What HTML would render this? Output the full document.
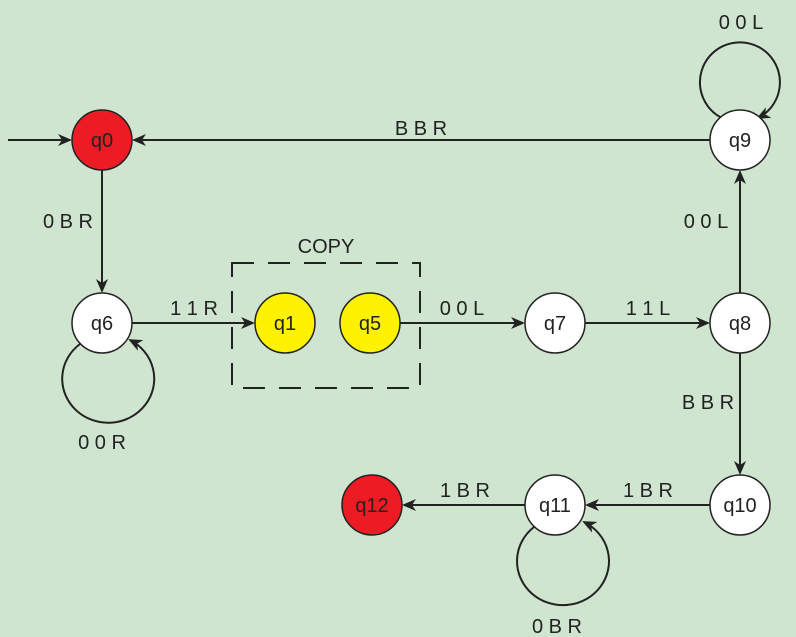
<!DOCTYPE html>
<html><head><meta charset="utf-8"><style>
html,body{margin:0;padding:0;background:#cfe5cf;}
svg{display:block;font-family:"Liberation Sans","DejaVu Sans",sans-serif;}
text{font-size:20px;fill:#222;}
</style></head><body>
<svg width="796" height="637" viewBox="0 0 796 637">
<defs><marker id="ah" markerWidth="14" markerHeight="12" refX="12" refY="6" orient="auto" markerUnits="userSpaceOnUse"><path d="M0,0 L14,6 L0,12 L4,6 Z" fill="#222"/></marker></defs>
<rect width="796" height="637" fill="#cfe5cf"/>
<g stroke="#222" stroke-width="2" fill="none">
<line x1="8" y1="140" x2="70" y2="140" marker-end="url(#ah)"/>
<line x1="710" y1="140" x2="134" y2="140" marker-end="url(#ah)"/>
<line x1="102" y1="170" x2="102" y2="291" marker-end="url(#ah)"/>
<path d="M80,344 A46,44 0 1 0 130,340" marker-end="url(#ah)"/>
<line x1="132" y1="323" x2="253" y2="323" marker-end="url(#ah)"/>
<line x1="400" y1="323" x2="523" y2="323" marker-end="url(#ah)"/>
<line x1="585" y1="323" x2="708" y2="323" marker-end="url(#ah)"/>
<line x1="740" y1="293" x2="740" y2="172" marker-end="url(#ah)"/>
<path d="M720,117 A40,40 0 1 1 758,118" marker-end="url(#ah)"/>
<line x1="740" y1="353" x2="740" y2="473" marker-end="url(#ah)"/>
<line x1="710" y1="505" x2="587" y2="505" marker-end="url(#ah)"/>
<line x1="525" y1="505" x2="404" y2="505" marker-end="url(#ah)"/>
<path d="M534,527 A46,44 0 1 0 584,522" marker-end="url(#ah)"/>
<rect x="232" y="263" width="188" height="125" stroke-dasharray="22,14"/>
</g>
<g stroke="#222" stroke-width="1.5">
<circle cx="102" cy="140" r="30" fill="#ed1c24"/>
<circle cx="102" cy="323" r="30" fill="#fff"/>
<circle cx="285" cy="323" r="30" fill="#fff200"/>
<circle cx="370" cy="323" r="30" fill="#fff200"/>
<circle cx="555" cy="323" r="30" fill="#fff"/>
<circle cx="740" cy="323" r="30" fill="#fff"/>
<circle cx="740" cy="140" r="30" fill="#fff"/>
<circle cx="740" cy="505" r="30" fill="#fff"/>
<circle cx="555" cy="505" r="30" fill="#fff"/>
<circle cx="372" cy="505" r="30" fill="#ed1c24"/>
</g>
<g text-anchor="middle">
<text x="102" y="147">q0</text>
<text x="102" y="330">q6</text>
<text x="285" y="330">q1</text>
<text x="370" y="330">q5</text>
<text x="555" y="330">q7</text>
<text x="740" y="330">q8</text>
<text x="740" y="147">q9</text>
<text x="740" y="512">q10</text>
<text x="555" y="512">q11</text>
<text x="372" y="512">q12</text>
<text x="421" y="135">B B R</text>
<text x="68" y="228">0 B R</text>
<text x="102" y="449">0 0 R</text>
<text x="194" y="315">1 1 R</text>
<text x="326" y="253">COPY</text>
<text x="462" y="315">0 0 L</text>
<text x="648" y="315">1 1 L</text>
<text x="706" y="228">0 0 L</text>
<text x="741" y="29">0 0 L</text>
<text x="708" y="409">B B R</text>
<text x="648" y="497">1 B R</text>
<text x="465" y="497">1 B R</text>
<text x="557" y="633">0 B R</text>
</g>
</svg>
</body></html>
